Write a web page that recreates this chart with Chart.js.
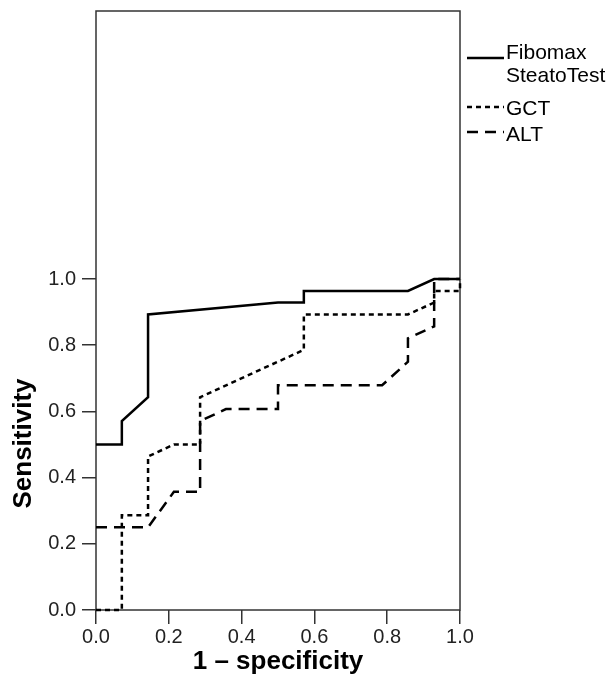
<!DOCTYPE html>
<html>
<head>
<meta charset="utf-8">
<script src="https://cdn.jsdelivr.net/npm/chart.js@4.4.1/dist/chart.umd.min.js"></script>
<style>
  html, body { margin: 0; padding: 0; background: #fff; }
  #wrap { width: 613px; height: 677px; }
</style>
</head>
<body>
<div id="wrap"><canvas id="roc"></canvas></div>
<script>
// ROC curves: x = 1 - specificity, y = sensitivity
var seriesNames = [['Fibomax', 'SteatoTest'], 'GCT', 'ALT'];

var fibomaxX = [0.000, 0.071, 0.071, 0.143, 0.143, 0.500, 0.571, 0.571, 0.857, 0.929, 1.000];
var fibomaxY = [0.500, 0.500, 0.571, 0.643, 0.893, 0.929, 0.929, 0.964, 0.964, 1.000, 1.000];

var gctX = [0.000, 0.071, 0.071, 0.143, 0.143, 0.214, 0.286, 0.286, 0.571, 0.571, 0.857, 0.929, 0.929, 1.000, 1.000];
var gctY = [0.000, 0.000, 0.286, 0.286, 0.464, 0.500, 0.500, 0.643, 0.786, 0.893, 0.893, 0.929, 0.964, 0.964, 1.000];

var altX = [0.000, 0.143, 0.214, 0.286, 0.286, 0.357, 0.500, 0.500, 0.786, 0.857, 0.857, 0.929, 0.929, 1.000];
var altY = [0.250, 0.250, 0.357, 0.357, 0.571, 0.607, 0.607, 0.679, 0.679, 0.750, 0.821, 0.857, 1.000, 1.000];

var xTicks = [0, 0.2, 0.4, 0.6, 0.8, 1.0];
var yTicks = [0, 0.2, 0.4, 0.6, 0.8, 1.0];

var FONT = "'Liberation Sans', Arial, sans-serif";

function pts(xs, ys) {
  return xs.map(function (x, i) { return { x: x, y: ys[i] }; });
}

function line(label, xs, ys, dash) {
  return {
    label: label,
    data: pts(xs, ys),
    showLine: true,
    borderColor: '#000',
    borderWidth: 2.5,
    borderDash: dash,
    borderCapStyle: 'butt',
    pointRadius: 0,
    tension: 0,
    clip: false
  };
}

// box round the plot area
var framePlugin = {
  id: 'frame',
  beforeDatasetsDraw: function (chart) {
    var a = chart.chartArea, ctx = chart.ctx;
    ctx.save();
    ctx.strokeStyle = '#333';
    ctx.lineWidth = 1.5;
    ctx.strokeRect(a.left, a.top, a.right - a.left, a.bottom - a.top);
    ctx.restore();
  }
};

// y title centred on the 0..1 part of the axis, plus the legend on the right
var textPlugin = {
  id: 'texts',
  afterDraw: function (chart) {
    var ctx = chart.ctx, a = chart.chartArea;
    var ys = chart.scales.y;
    ctx.save();
    ctx.fillStyle = '#000';
    ctx.font = 'bold 26px ' + FONT;
    ctx.translate(31, ys.getPixelForValue(0.5) - 1);
    ctx.rotate(-Math.PI / 2);
    ctx.textAlign = 'center';
    ctx.textBaseline = 'alphabetic';
    ctx.fillText('Sensitivity', 0, 0);
    ctx.restore();

    // legend
    var rows = [{ lineY: 58, base: 59 }, { lineY: 107, base: 115 }, { lineY: 132, base: 141 }];
    ctx.save();
    ctx.font = '21px ' + FONT;
    ctx.textAlign = 'left';
    ctx.textBaseline = 'alphabetic';
    chart.data.datasets.forEach(function (ds, i) {
      var r = rows[i];
      ctx.strokeStyle = '#000';
      ctx.lineWidth = 2.5;
      ctx.setLineDash(ds.borderDash || []);
      ctx.beginPath();
      ctx.moveTo(a.right + 7, r.lineY);
      ctx.lineTo(a.right + 44, r.lineY);
      ctx.stroke();
      ctx.setLineDash([]);
      var lines = [].concat(ds.label);
      lines.forEach(function (t, k) {
        ctx.fillText(t, a.right + 46, r.base + k * 23);
      });
    });
    ctx.restore();
  }
};

new Chart(document.getElementById('roc'), {
  type: 'scatter',
  data: {
    datasets: [
      line(seriesNames[0], fibomaxX, fibomaxY, []),
      line(seriesNames[1], gctX, gctY, [5, 4]),
      line(seriesNames[2], altX, altY, [11, 7])
    ]
  },
  options: {
    responsive: true,
    maintainAspectRatio: false,
    animation: false,
    layout: { padding: { top: 11, right: 153, left: 0, bottom: 0 } },
    plugins: { legend: { display: false }, tooltip: { enabled: false } },
    scales: {
      x: {
        type: 'linear',
        min: 0,
        max: 1,
        afterFit: function (s) { s.height = 67; s.paddingLeft = 0; s.paddingRight = 0; },
        afterBuildTicks: function (s) { s.ticks = xTicks.map(function (v) { return { value: v }; }); },
        border: { display: false },
        grid: { drawOnChartArea: false, drawTicks: true, tickLength: 14, color: '#333', lineWidth: 1.5 },
        ticks: {
          padding: 1,
          color: '#222',
          font: { family: FONT, size: 20 },
          maxRotation: 0,
          callback: function (v) { return Number(v).toFixed(1); }
        },
        title: {
          display: true,
          text: '1 \u2013 specificity',
          color: '#000',
          font: { family: FONT, size: 26, weight: 'bold' },
          padding: { top: 0, bottom: 0 }
        }
      },
      y: {
        type: 'linear',
        min: 0,
        max: 1.81,
        afterFit: function (s) { s.width = 96; s.paddingTop = 0; s.paddingBottom = 0; },
        afterBuildTicks: function (s) { s.ticks = yTicks.map(function (v) { return { value: v }; }); },
        border: { display: false },
        grid: { drawOnChartArea: false, drawTicks: true, tickLength: 14, color: '#333', lineWidth: 1.5 },
        ticks: {
          padding: 6,
          color: '#222',
          font: { family: FONT, size: 20 },
          callback: function (v) { return Number(v).toFixed(1); }
        }
      }
    }
  },
  plugins: [framePlugin, textPlugin]
});
</script>
</body>
</html>
